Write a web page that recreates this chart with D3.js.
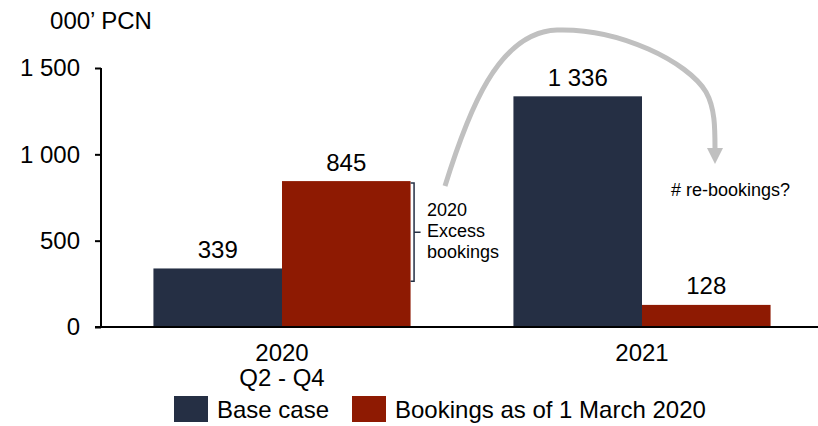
<!DOCTYPE html>
<html>
<head>
<meta charset="utf-8">
<script src="https://cdn.jsdelivr.net/npm/d3@7"></script>
<style>
  html, body { margin: 0; padding: 0; background: #fff; }
  svg { display: block; font-family: "Liberation Sans", Arial, sans-serif; }
</style>
</head>
<body>
<svg id="chart" width="818" height="426"></svg>
<script>
// Data
const categories = ["2020", "2021"];
const categoryLines = [["2020", "Q2 - Q4"], ["2021"]];
const seriesNames = ["Base case", "Bookings as of 1 March 2020"];
const baseCase = [339, 1336];
const bookings = [845, 128];
const yTicks = [0, 500, 1000, 1500];
const yTickLabels = ["0", "500", "1 000", "1 500"];
const unitLabel = "000\u2019 PCN";
const excessNote = ["2020", "Excess", "bookings"];
const rebookNote = "# re-bookings?";

const colors = ["#252f44", "#8e1a02"];
const seriesValues = [baseCase, bookings];

const svg = d3.select("#chart");
const bigFont = "24px";
const smallFont = "18px";

// Scales
const y = d3.scaleLinear().domain([0, 1500]).range([327, 68]);
const x0 = d3.scaleBand().domain(categories).range([102, 822]).paddingInner(0).paddingOuter(0);
const x1 = d3.scaleBand().domain(seriesNames).range([0, x0.bandwidth()]).paddingInner(0).paddingOuter(0.4);

// Bars
const rows = categories.map((c, i) => ({
  cat: c,
  values: seriesNames.map((s, j) => ({ series: s, value: seriesValues[j][i], color: colors[j] }))
}));

const groups = svg.append("g").selectAll("g")
  .data(rows).join("g")
  .attr("transform", d => `translate(${x0(d.cat)},0)`);

groups.selectAll("rect")
  .data(d => d.values).join("rect")
  .attr("x", d => x1(d.series))
  .attr("width", x1.bandwidth())
  .attr("y", d => y(d.value))
  .attr("height", d => y(0) - y(d.value))
  .attr("fill", d => d.color);

// Value labels
groups.selectAll("text.val")
  .data(d => d.values).join("text")
  .attr("class", "val")
  .attr("x", d => x1(d.series) + x1.bandwidth() / 2)
  .attr("y", d => y(d.value) - 10.5)
  .attr("text-anchor", "middle")
  .style("font-size", bigFont)
  .attr("fill", "#000")
  .text(d => d3.format(",")(d.value).replace(/,/g, " "));

// Y axis
const yAxis = d3.axisLeft(y)
  .tickValues(yTicks)
  .tickFormat((d, i) => yTickLabels[i])
  .tickSize(6)
  .tickPadding(15);

const gy = svg.append("g")
  .attr("transform", "translate(101,0)")
  .call(yAxis);
gy.select(".domain").attr("stroke", "#000").attr("stroke-width", 2).attr("d", `M0,${y(1500)}V${y(0)}`);
gy.selectAll(".tick line").attr("stroke", "#000").attr("stroke-width", 2);
gy.selectAll(".tick text")
  .style("font-size", bigFont)
  .style("font-family", "Liberation Sans, Arial, sans-serif")
  .attr("fill", "#000");

// X axis baseline
svg.append("line")
  .attr("x1", 95).attr("x2", 818)
  .attr("y1", y(0)).attr("y2", y(0))
  .attr("stroke", "#000").attr("stroke-width", 2);

// Category labels
const catText = svg.append("g").selectAll("text")
  .data(categories).join("text")
  .attr("x", d => x0(d) + x0.bandwidth() / 2)
  .attr("y", 361)
  .attr("text-anchor", "middle")
  .style("font-size", bigFont)
  .attr("fill", "#000");
catText.selectAll("tspan")
  .data((d, i) => categoryLines[i]).join("tspan")
  .attr("x", function() { return this.parentNode.getAttribute("x"); })
  .attr("dy", (d, i) => i === 0 ? 0 : 25)
  .text(d => d);

// Unit label
svg.append("text")
  .attr("x", 101).attr("y", 29)
  .attr("text-anchor", "middle")
  .style("font-size", bigFont)
  .attr("fill", "#000")
  .text(unitLabel);

// Legend
const legend = svg.append("g");
const legendX = [174, 352];
seriesNames.forEach((s, i) => {
  legend.append("rect")
    .attr("x", legendX[i]).attr("y", 396)
    .attr("width", 34).attr("height", 26)
    .attr("fill", colors[i]);
  legend.append("text")
    .attr("x", legendX[i] + 43).attr("y", 418)
    .style("font-size", bigFont)
    .attr("fill", "#000")
    .text(s);
});

// Bracket marking the 2020 excess bookings
const bx = x0("2020") + x1("Bookings as of 1 March 2020") + x1.bandwidth();
const bTop = y(bookings[0]) + 2;
const bBot = y(265);
const bMid = (bTop + bBot) / 2;
svg.append("path")
  .attr("d", `M${bx},${bTop}H${bx + 3.5}V${bBot}H${bx}M${bx + 3.5},${bMid}H${bx + 10}`)
  .attr("fill", "none")
  .attr("stroke", "#253044")
  .attr("stroke-width", 1.5);

const ex = svg.append("text")
  .attr("x", 427).attr("y", 216)
  .style("font-size", smallFont)
  .attr("fill", "#000");
ex.selectAll("tspan").data(excessNote).join("tspan")
  .attr("x", 427)
  .attr("dy", (d, i) => i === 0 ? 0 : 21)
  .text(d => d);

// Curved arrow towards 2021 re-bookings
svg.append("path")
  .attr("d", "M445,186 C468,112 498,32 557,30 C620,28 688,62 706,92 C715,108 715,128 715,149")
  .attr("fill", "none")
  .attr("stroke", "#c0c0c0")
  .attr("stroke-width", 5);
svg.append("path")
  .attr("d", "M707,148 L723,148 L715,164 Z")
  .attr("fill", "#c0c0c0");

svg.append("text")
  .attr("x", 671).attr("y", 196)
  .style("font-size", smallFont)
  .attr("fill", "#000")
  .text(rebookNote);
</script>
</body>
</html>
